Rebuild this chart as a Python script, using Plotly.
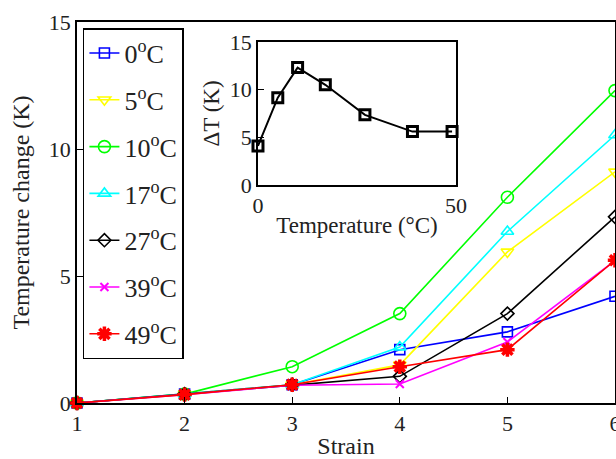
import plotly.graph_objects as go

strain = [1, 2, 3, 4, 5, 6]
names = ["0<sup>o</sup>C", "5<sup>o</sup>C", "10<sup>o</sup>C", "17<sup>o</sup>C",
         "27<sup>o</sup>C", "39<sup>o</sup>C", "49<sup>o</sup>C"]
t0 = [0, 0.35, 0.72, 2.1, 2.8, 4.2]
t5 = [0, 0.35, 0.72, 1.5, 5.95, 9.1]
t10 = [0, 0.35, 1.43, 3.52, 8.1, 12.3]
t17 = [0, 0.35, 0.72, 2.2, 6.75, 10.55]
t27 = [0, 0.35, 0.72, 1.05, 3.52, 7.33]
t39 = [0, 0.33, 0.7, 0.75, 2.4, 5.6]
t49 = [0, 0.33, 0.72, 1.43, 2.1, 5.62]
series = [t0, t5, t10, t17, t27, t39, t49]

inset_temp = [0, 5, 10, 17, 27, 39, 49]
inset_dT = [4.1, 9.15, 12.3, 10.5, 7.35, 5.6, 5.6]

colors = ["#0000ff", "#ffff00", "#00ff00", "#00ffff", "#000000", "#ff00ff", "#ff0000"]
symbols = ["square-open", "triangle-down-open", "circle-open", "triangle-up-open",
           "diamond-open", "x-thin-open", "asterisk-open"]
sizes = [10, 11, 12, 11, 10, 8, 12]
mlw = [1.6, 1.6, 1.6, 1.6, 1.6, 2, 3.5]

FONT = "Liberation Serif"
TXT = "#222222"

fig = go.Figure()
for i, (nm, ys) in enumerate(zip(names, series)):
    fig.add_trace(go.Scatter(
        x=strain, y=ys, name=nm, mode="lines+markers",
        line=dict(color=colors[i], width=1.6),
        marker=dict(symbol=symbols[i], size=sizes[i], color=colors[i],
                    line=dict(color=colors[i], width=mlw[i])),
        legendgroup="g%d" % i, cliponaxis=False,
        xaxis="x", yaxis="y"))

fig.add_trace(go.Scatter(
    x=inset_temp, y=inset_dT, mode="lines+markers", showlegend=False,
    line=dict(color="black", width=2),
    marker=dict(symbol="square-open", size=10, color="black",
                line=dict(color="black", width=3)),
    cliponaxis=False, xaxis="x2", yaxis="y2"))

axis_common = dict(showline=True, linecolor="black", linewidth=1.5, mirror=True,
                   ticks="inside", tickcolor="black", ticklen=6, tickwidth=1.2,
                   showgrid=False, zeroline=False, automargin=False,
                   ticklabeloverflow="allow",
                   tickfont=dict(family=FONT, size=22, color=TXT))

fig.update_layout(
    width=616, height=459,
    margin=dict(l=77, r=1, t=22, b=56),
    paper_bgcolor="white", plot_bgcolor="white",
    font=dict(family=FONT, size=22, color=TXT),
    xaxis=dict(range=[1, 6], tickvals=[1, 2, 3, 4, 5, 6], domain=[0, 1],
               title=dict(text="Strain", font=dict(family=FONT, size=24, color=TXT), standoff=3),
               **axis_common),
    yaxis=dict(range=[0, 15], tickvals=[0, 5, 10, 15], domain=[0, 1],
               title=dict(text="Temperature change (K)", font=dict(family=FONT, size=24, color=TXT), standoff=12),
               **axis_common),
    xaxis2=dict(range=[0, 50], tickvals=[0, 50], domain=[0.3364, 0.7045], anchor="y2",
                title=dict(text="Temperature (°C)", font=dict(family=FONT, size=23, color=TXT), standoff=0),
                **axis_common),
    yaxis2=dict(range=[0, 15], tickvals=[0, 5, 10, 15], domain=[0.572, 0.948], anchor="x2",
                title=dict(text="ΔT (K)", font=dict(family=FONT, size=23, color=TXT), standoff=4),
                **axis_common),
    legend=dict(x=0.011, y=0.984, xanchor="left", yanchor="top",
                bordercolor="black", borderwidth=1.5, bgcolor="white",
                font=dict(family=FONT, size=26, color=TXT),
                tracegroupgap=10, itemwidth=30),
    showlegend=True,
)

fig.write_html("out.html", post_script="document.body.style.margin='0';",
               config={"displayModeBar": False})
